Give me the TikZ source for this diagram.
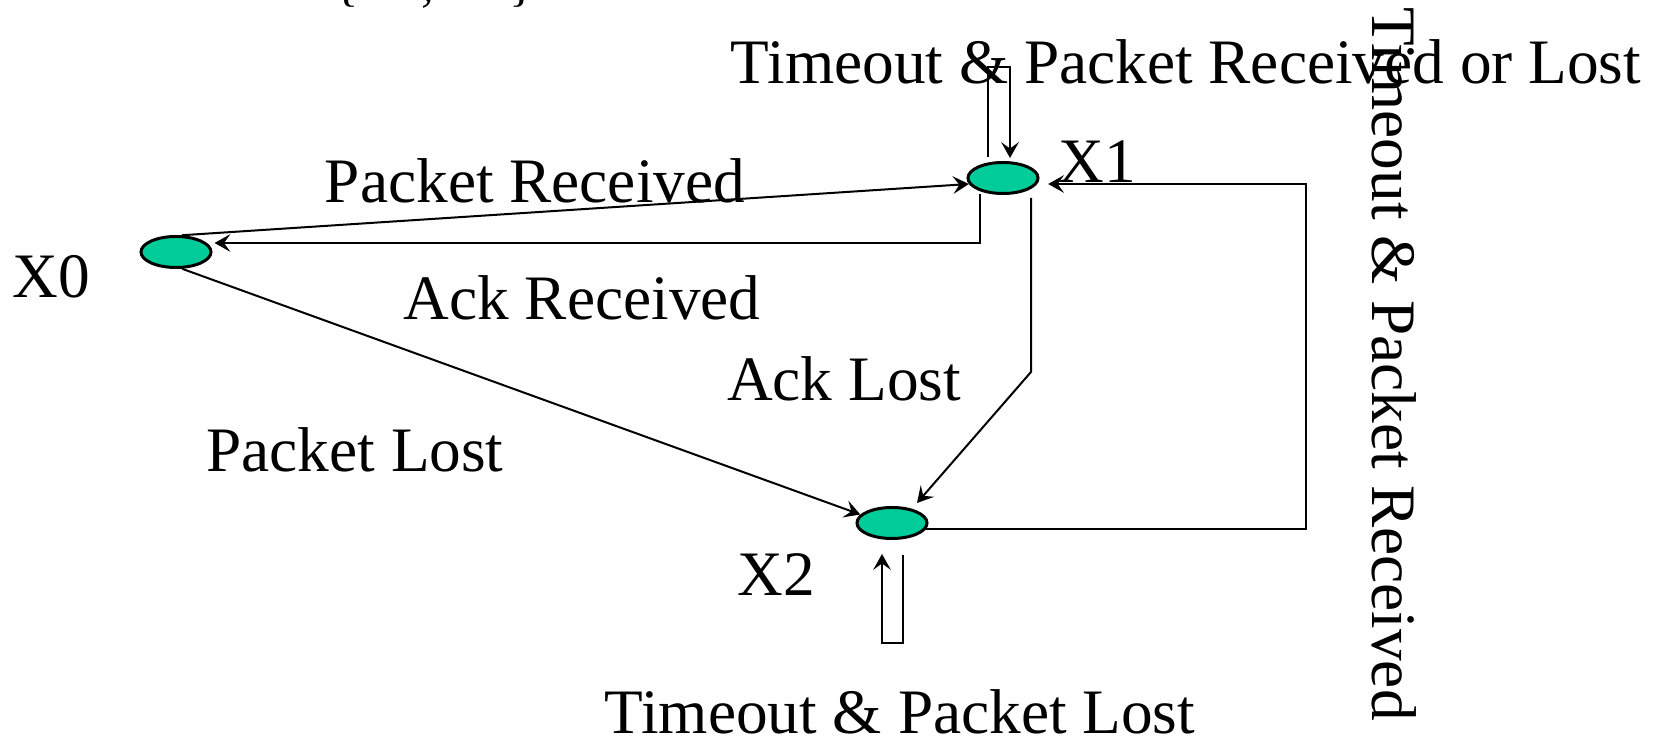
\documentclass[tikz,border=0pt]{standalone}
\usepackage{fontspec}
\setmainfont{Liberation Serif}
\usetikzlibrary{shapes.geometric,arrows.meta}
\definecolor{stategreen}{RGB}{0,204,153}

\begin{document}
\begin{tikzpicture}[x=0.01cm,y=-0.01cm,inner sep=0pt,line width=0.57pt,
  font=\fontsize{18}{20}\selectfont,
  state/.style={ellipse,draw,line width=0.85pt,fill=stategreen,minimum width=0.7cm,minimum height=0.31cm},
  >={Stealth[length=4.5pt,width=5pt,inset=1.8pt]}]

\clip (0,0) rectangle (1659,740);

\node[anchor=base west,font=\fontsize{14.5}{16}\selectfont] (set) at (217,1) {X2 = \{X2, X1\}};

\node[state] (x0) at (176,252) {};
\node[state] (x1) at (1003,178) {};
\node[state] (x2) at (892,523) {};

\node(n0) at (51,277) {X0};
\node(n1) at (1097,162) {X1};
\node(n2) at (776,575) {X2};

\node(pr) at (535,181) {Packet Received};
\node(ar) at (582,298) {Ack Received};
\node(al) at (844,379) {Ack Lost};
\node(pl) at (355,450) {Packet Lost};
\node(tprl) at (1186,62) {Timeout \& Packet Received or Lost};
\node(tpl) at (900,712) {Timeout \& Packet Lost};
\node[rotate=-90](tpr) at (1394,364) {Timeout \& Packet Received};

\draw[->] (x0.70) -- (x1.190);
\draw[->] ([shift={(-23,16)}]x1.center) |- ([shift={(2,-9)}]x0.east);
\draw[->] (x0.-70) -- (x2.165);
\draw[->] ([shift={(28,20)}]x1.center) -- ++(0,174) -- ([shift={(25,-20)}]x2.center);
\draw[->] (x2.-10) -- ++(380,0) |- ([shift={(11,0)}]x1.-10);

%self loops
\draw[->] ([shift={(-15,-21)}]x1.center) -- ++(0,-90) -- ++(22,0) -- ([shift={(7,-20)}]x1.center);
\draw[->] ([shift={(11,32)}]x2.center) -- ++(0,88) -- ++(-21,0) -- ([shift={(-10,31)}]x2.center);

\end{tikzpicture}
\end{document}
